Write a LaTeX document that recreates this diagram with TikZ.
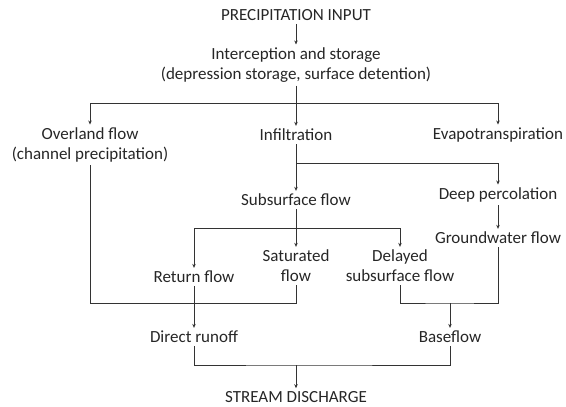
\documentclass[tikz,border=0pt]{standalone}
\usepackage{fontspec}
\setmainfont{Carlito}
\usepackage{tikz}
\usetikzlibrary{positioning,arrows.meta}

\begin{document}
\begin{tikzpicture}[x=1pt,y=1pt,on grid,
    every node/.style={font=\fontsize{17}{20}\selectfont,text=black!85,align=center,inner sep=3pt},
    flow/.style={draw=black!80,line width=0.7pt},
    >={Stealth[length=4pt,width=3.5pt]}]
    \useasboundingbox (0,0) rectangle (566,-407);
    \node (prec) at (296,-15) {PRECIPITATION INPUT};
    \node (inter) [below=50pt of prec] {Interception and storage\\(depression storage, surface detention)};
    \node (infil) [below=70pt of inter] {Infiltration};
    \node (over) [below left=80pt and 206pt of inter] {Overland flow\\(channel precipitation)};
    \node (evap) [right=202pt of infil] {Evapotranspiration};
    \node (subs) [below=65pt of infil] {Subsurface flow};
    \node (deep) [below=60pt of evap] {Deep percolation};
    \node (ground) [below=43pt of deep] {Groundwater flow};
    \node (sat) [below=66pt of subs] {Saturated\\flow};
    \node (ret) [below left=11pt and 102pt of sat] {Return flow};
    \node (del) [right=104pt of sat] {Delayed\\subsurface flow};
    \node (direct) [below=60pt of ret] {Direct runoff};
    \node (base) [right=256pt of direct] {Baseflow};
    \node (stream) [below=131pt of sat] {STREAM DISCHARGE};
    % junctions
    \coordinate [below=38pt of inter] (j1);
    \coordinate [below=28pt of infil] (j2);
    \coordinate [below=28pt of subs] (j3);
    \coordinate [below=37pt of sat] (j4);
    \coordinate [below=37pt of del, xshift=50pt] (j5);
    \coordinate [below=99pt of sat] (j6);

    \draw[flow,->] (prec) -- (inter);
    \draw[flow] (inter) -- (j1);
    \draw[flow,->] (j1) -| (over);
    \draw[flow,->] (j1) -- (infil);
    \draw[flow,->] (j1) -| (evap);
    \draw[flow] (infil) -- (j2);
    \draw[flow,->] (j2) -- (subs);
    \draw[flow,->] (j2) -| (deep);
    \draw[flow,->] (deep) -- (ground);
    \draw[flow] (subs) -- (j3);
    \draw[flow,->] (j3) -| (ret);
    \draw[flow,->] (j3) -- (sat);
    \draw[flow,->] (j3) -| (del);
    \draw[flow] (over) |- (j4) -- (sat);
    \draw[flow,->] (ret) -- (direct);
    \draw[flow] (del) |- (j5) -| (ground);
    \draw[flow,->] (j5) -- (base);
    \draw[flow] (direct) |- (j6) -| (base);
    \draw[flow,->] (j6) -- (stream);
\end{tikzpicture}
\end{document}
